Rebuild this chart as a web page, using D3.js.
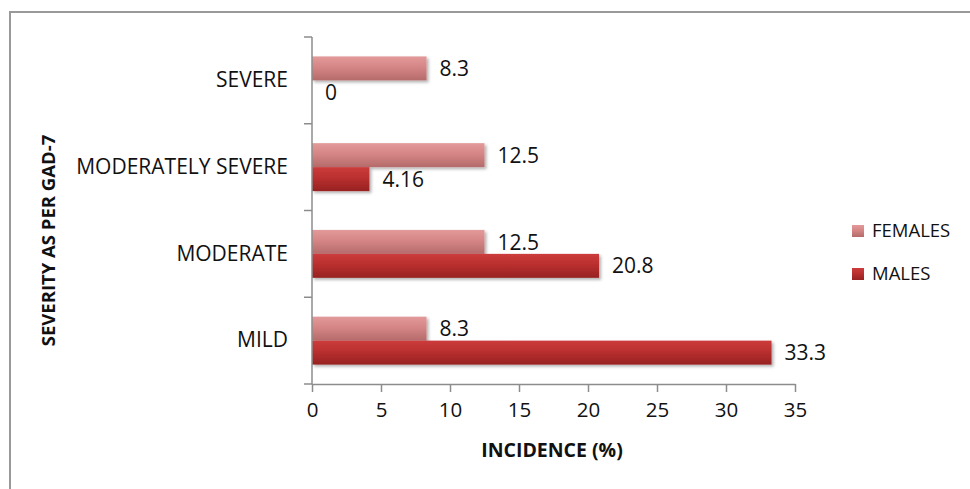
<!DOCTYPE html>
<html>
<head>
<meta charset="utf-8">
<script src="https://cdn.jsdelivr.net/npm/d3@7"></script>
<style>
  html, body { margin: 0; padding: 0; background: #fff; }
  svg { display: block; }
  text { font-family: "Open Sans", Lato, sans-serif; fill: #111; }
</style>
</head>
<body>
<svg id="chart" width="970" height="489"></svg>
<script>
// GAD-7 severity by sex (incidence, %)
const categories = ["SEVERE", "MODERATELY SEVERE", "MODERATE", "MILD"];
const seriesNames = ["FEMALES", "MALES"];
const females = [8.3, 12.5, 12.5, 8.3];
const males = [0, 4.16, 20.8, 33.3];
const valueLabels = {
  FEMALES: ["8.3", "12.5", "12.5", "8.3"],
  MALES: ["0", "4.16", "20.8", "33.3"]
};
const xTicks = [0, 5, 10, 15, 20, 25, 30, 35];
const xTitle = "INCIDENCE (%)";
const yTitle = "SEVERITY AS PER GAD-7";

const seriesValues = { FEMALES: females, MALES: males };
const rows = categories.map((c, i) => ({
  category: c,
  values: seriesNames.map(s => ({ series: s, value: seriesValues[s][i], label: valueLabels[s][i] }))
}));

const svg = d3.select("#chart");
const W = 970, H = 489;
const plot = { left: 312, right: 795, top: 37, bottom: 384 };

// outer frame (left and top edges visible, right/bottom run off the page)
svg.append("rect")
  .attr("x", 10).attr("y", 12)
  .attr("width", W + 20).attr("height", H + 20)
  .attr("fill", "#fff")
  .attr("stroke", "#999").attr("stroke-width", 2);

const defs = svg.append("defs");
const grads = {
  FEMALES: ["#e39a9a", "#d58585", "#b56b6b"],
  MALES: ["#cc3c3c", "#ba2f2f", "#972222"]
};
seriesNames.forEach(s => {
  const g = defs.append("linearGradient")
    .attr("id", "grad-" + s).attr("x1", 0).attr("y1", 0).attr("x2", 0).attr("y2", 1);
  g.append("stop").attr("offset", "0%").attr("stop-color", grads[s][0]);
  g.append("stop").attr("offset", "45%").attr("stop-color", grads[s][1]);
  g.append("stop").attr("offset", "100%").attr("stop-color", grads[s][2]);
});
const shadow = defs.append("filter").attr("id", "shadow")
  .attr("x", "-5%").attr("y", "-20%").attr("width", "115%").attr("height", "160%");
shadow.append("feDropShadow")
  .attr("dx", 2).attr("dy", 2).attr("stdDeviation", 1.5)
  .attr("flood-color", "#000").attr("flood-opacity", 0.3);

const x = d3.scaleLinear().domain([0, 35]).range([plot.left, plot.right]);
const y = d3.scaleBand().domain(categories).range([plot.top, plot.bottom]);
const yInner = d3.scaleBand().domain(seriesNames)
  .range([0, y.bandwidth()]).paddingInner(0).paddingOuter(0.81);

// bars
const groups = svg.append("g").selectAll("g")
  .data(rows).join("g")
  .attr("transform", d => `translate(0,${y(d.category)})`);

groups.selectAll("rect")
  .data(d => d.values).join("rect")
  .attr("x", x(0))
  .attr("y", d => yInner(d.series))
  .attr("width", d => x(d.value) - x(0))
  .attr("height", yInner.bandwidth())
  .attr("fill", d => `url(#grad-${d.series})`)
  .attr("filter", "url(#shadow)");

// value labels
groups.selectAll("text.val")
  .data(d => d.values).join("text")
  .attr("class", "val")
  .attr("x", d => x(d.value) + 13)
  .attr("y", d => yInner(d.series) + yInner.bandwidth() / 2 + 2)
  .attr("dominant-baseline", "middle")
  .attr("font-size", 21)
  .text(d => d.label);

// y axis
const yAxis = svg.append("g").attr("transform", `translate(${plot.left},0)`);
yAxis.append("line")
  .attr("x1", 0).attr("x2", 0).attr("y1", plot.top).attr("y2", plot.bottom)
  .attr("stroke", "#8c8c8c").attr("stroke-width", 1.5);
const bounds = categories.map(c => y(c)).concat([plot.bottom]);
yAxis.selectAll("line.tick")
  .data(bounds).join("line")
  .attr("class", "tick")
  .attr("x1", -8).attr("x2", 0)
  .attr("y1", d => d).attr("y2", d => d)
  .attr("stroke", "#8c8c8c").attr("stroke-width", 1.5);
yAxis.selectAll("text.cat")
  .data(categories).join("text")
  .attr("class", "cat")
  .attr("x", -24)
  .attr("y", d => y(d) + y.bandwidth() / 2 + 1)
  .attr("text-anchor", "end")
  .attr("dominant-baseline", "middle")
  .attr("font-size", 21)
  .text(d => d);

// x axis
const xAxisG = svg.append("g")
  .attr("transform", `translate(0,${plot.bottom})`)
  .call(d3.axisBottom(x).tickValues(xTicks).tickSize(8).tickPadding(10).tickSizeOuter(0));
xAxisG.select(".domain").attr("stroke", "#8c8c8c").attr("stroke-width", 1.5);
xAxisG.selectAll(".tick line").attr("stroke", "#8c8c8c").attr("stroke-width", 1.5);
xAxisG.selectAll(".tick text")
  .attr("font-family", "'Open Sans', Lato, sans-serif")
  .attr("font-size", 20.5).attr("fill", "#111");

// axis titles
svg.append("text")
  .attr("x", 552)
  .attr("y", 452)
  .attr("text-anchor", "middle")
  .attr("dominant-baseline", "middle")
  .attr("font-size", 19.5).attr("font-weight", "bold")
  .text(xTitle);

svg.append("text")
  .attr("transform", `translate(50,${(138 + 343) / 2}) rotate(-90)`)
  .attr("text-anchor", "middle")
  .attr("dominant-baseline", "middle")
  .attr("font-size", 18.5).attr("font-weight", "bold")
  .text(yTitle);

// legend
const legend = svg.append("g").attr("transform", "translate(852,0)");
const legendY = { FEMALES: 231, MALES: 274 };
const items = legend.selectAll("g").data(seriesNames).join("g")
  .attr("transform", d => `translate(0,${legendY[d]})`);
items.append("rect")
  .attr("x", 0).attr("y", -6).attr("width", 12).attr("height", 12)
  .attr("fill", d => `url(#grad-${d})`);
items.append("text")
  .attr("x", 20).attr("y", 1)
  .attr("dominant-baseline", "middle")
  .attr("font-size", 18.5)
  .text(d => d);
</script>
</body>
</html>
